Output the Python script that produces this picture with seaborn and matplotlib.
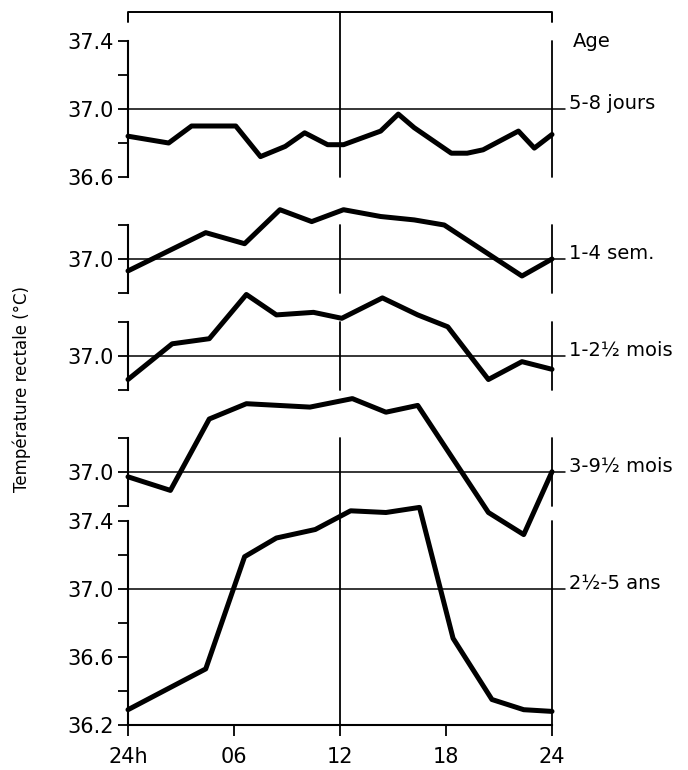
import matplotlib
matplotlib.use("Agg")
import matplotlib.pyplot as plt
import seaborn as sns
import pandas as pd

# age groups (labels drawn on the right of each panel)
age_labels = ["5-8 jours", "1-4 sem.", "1-2½ mois", "3-9½ mois", "2½-5 ans"]

# hour of day (0 = midnight) / rectal temperature in °C
hours_5_8j = [0.0, 2.3, 3.6, 6.1, 7.5, 8.9, 10.0, 11.3, 12.2, 14.3, 15.3, 16.2, 18.3, 19.2, 20.1, 22.1, 23.0, 24.0]
temp_5_8j = [36.84, 36.80, 36.90, 36.90, 36.72, 36.78, 36.86, 36.79, 36.79, 36.87, 36.97, 36.89, 36.74, 36.74, 36.76, 36.87, 36.77, 36.85]

hours_1_4s = [0.0, 4.4, 6.6, 8.6, 10.4, 12.2, 14.3, 16.2, 17.9, 22.3, 24.0]
temp_1_4s = [36.93, 37.155, 37.09, 37.29, 37.22, 37.29, 37.25, 37.23, 37.20, 36.90, 37.00]

hours_1_2m = [0.0, 2.5, 4.6, 6.7, 8.4, 10.5, 12.1, 14.4, 16.4, 18.1, 20.4, 22.3, 24.0]
temp_1_2m = [36.86, 37.07, 37.10, 37.36, 37.24, 37.255, 37.22, 37.34, 37.24, 37.17, 36.86, 36.965, 36.92]

hours_3_9m = [0.0, 2.4, 4.6, 6.7, 10.3, 12.7, 14.6, 16.4, 20.4, 22.4, 24.0]
temp_3_9m = [36.97, 36.89, 37.31, 37.40, 37.38, 37.43, 37.35, 37.39, 36.76, 36.63, 37.00]

hours_2_5a = [0.0, 4.4, 6.6, 8.4, 10.6, 12.6, 14.6, 16.5, 18.4, 20.6, 22.4, 24.0]
temp_2_5a = [36.29, 36.53, 37.19, 37.30, 37.35, 37.46, 37.45, 37.48, 36.71, 36.35, 36.29, 36.28]

x_ticks = [0, 6, 12, 18, 24]
x_ticklabels = ["24h", "06", "12", "18", "24"]

series = [
    (hours_5_8j, temp_5_8j),
    (hours_1_4s, temp_1_4s),
    (hours_1_2m, temp_1_2m),
    (hours_3_9m, temp_3_9m),
    (hours_2_5a, temp_2_5a),
]

sns.set_style("ticks")
plt.rcParams["font.family"] = ["DejaVu Sans"]
for k in ["text.color", "axes.labelcolor", "xtick.color", "ytick.color", "axes.edgecolor"]:
    plt.rcParams[k] = "black"

W, H = 688, 770
x_left, x_right = 128, 552
scale = 170.0  # pixels per °C, same for every panel

# (pixel row of 37.0, y min, y max) for each panel
panels = [(109, 36.6, 37.4), (259, 36.8, 37.2), (355.7, 36.8, 37.2), (471.7, 36.8, 37.2), (589, 36.2, 37.4)]

fig = plt.figure(figsize=(W / 100, H / 100), dpi=100)

for i, ((y37, lo, hi), (hrs, tmp)) in enumerate(zip(panels, series)):
    top = y37 - (hi - 37.0) * scale
    bottom = y37 + (37.0 - lo) * scale
    ax = fig.add_axes([x_left / W, 1 - bottom / H, (x_right - x_left) / W, (bottom - top) / H])
    ax.patch.set_alpha(0)

    df = pd.DataFrame({"heure": hrs, "temp": tmp})
    sns.lineplot(data=df, x="heure", y="temp", ax=ax, color="black", lw=3.6,
                 clip_on=False, zorder=5)
    ax.set_xlim(0, 24)
    ax.set_ylim(lo, hi)
    ax.set_xlabel("")
    ax.set_ylabel("")

    # reference lines: 37.0 °C, midday, midnight
    ax.axhline(37.0, xmin=0, xmax=1.03, color="black", lw=1.1, clip_on=False)
    v_lo, v_hi = 0, 1
    if i == 0:
        v_hi = 1 + (top - 12) / (bottom - top)
    if i == 3:
        v_lo = -(panels[4][0] - 0.4 * scale - bottom) / (bottom - top)
    ax.axvline(12, ymin=v_lo, ymax=v_hi, color="black", lw=1.3, clip_on=False)
    ax.axvline(24, color="black", lw=1.3, clip_on=False)

    if lo == 36.8:
        ax.set_yticks([36.8, 37.0, 37.2], ["", "37.0", ""])
    elif i == 0:
        ax.set_yticks([36.6, 36.8, 37.0, 37.2, 37.4], ["36.6", "", "37.0", "", "37.4"])
    else:
        ax.set_yticks([36.2, 36.4, 36.6, 36.8, 37.0, 37.2, 37.4],
                      ["36.2", "", "36.6", "", "37.0", "", "37.4"])
    ax.tick_params(axis="y", direction="out", length=7, width=1.3, labelsize=15, pad=3)

    sns.despine(ax=ax, bottom=(i < 4))
    ax.spines["left"].set_linewidth(1.5)
    if i < 4:
        ax.tick_params(axis="x", bottom=False, labelbottom=False)
    else:
        ax.spines["bottom"].set_linewidth(1.5)
        ax.set_xticks(x_ticks, x_ticklabels)
        ax.tick_params(axis="x", direction="out", length=8, width=1.3, labelsize=15, pad=8)

    ax.text(1.04, 37.0, age_labels[i], transform=ax.get_yaxis_transform(),
            ha="left", va="baseline", fontsize=14)

    if i == 0:
        # bracket on top of the frame
        yb = 37.0 + (y37 - 12) / scale
        ax.plot([0, 0, 24, 24], [yb - 0.06, yb, yb, yb - 0.06], color="black", lw=1.4, clip_on=False)
        ax.text(1.05, 37.40, "Age", transform=ax.get_yaxis_transform(),
                ha="left", va="center", fontsize=14)

fig.text(0.032, 0.495, "Température rectale (°C)", rotation=90, ha="center", va="center", fontsize=12)

fig.savefig("out.png", dpi=100)
